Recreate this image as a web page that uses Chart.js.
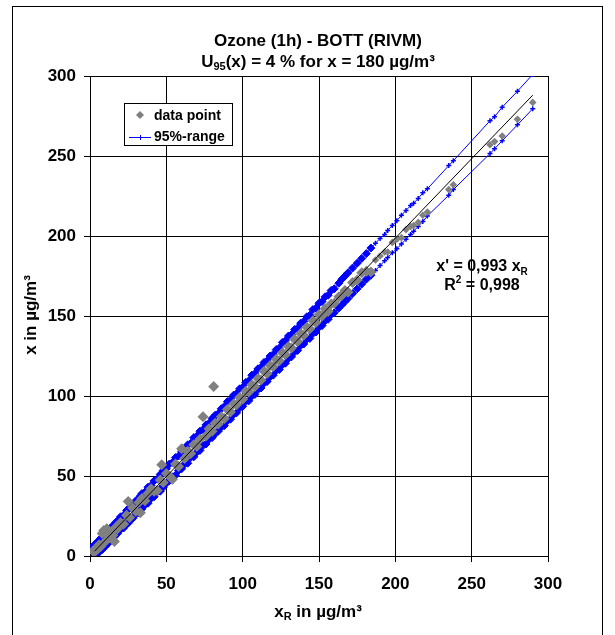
<!DOCTYPE html>
<html>
<head>
<meta charset="utf-8">
<script src="https://cdn.jsdelivr.net/npm/chart.js@4.4.1/dist/chart.umd.min.js"></script>
<style>
  body { margin: 0; background: #fff; }
  #wrap { width: 615px; height: 635px; }
</style>
</head>
<body>
<div id="wrap"><canvas id="grafico"></canvas></div>
<script>
// reference values x_R (shared by data points and the 95% range markers)
const dataX = [2,3,4,5,6,7,8,9,10,11,12,13,14,15,16,17,18,
  20,22,24,25,26,28,30,32,33,34,36,38,40,42,44,46,47,48,50,
  52,54,56,58,60,62,64,66,68,70,72,74,76,78,80,
  81,
  82,84,86,88,90,92,94,96,98,100,102,104,106,108,110,112,114,116,118,120,
  122,124,126,128,130,132,134,136,138,140,142,144,146,148,150,152,154,156,158,160,
  163,165,167,169,172,175,178,181,184,187,190,193,195,198,201,204,207,210,212,215,218,221,235,238,
  262,265,270,280,290]

// candidate values x
const dataY = [3,2.5,5,4.5,7,6,14,16,9,17,12.5,11.5,15,13,9,18,17,
  21,20,25.5,34,24,30,28,33.5,27,36,34.5,39,42,40.5,41,47.5,57,46,51.5,
  50,48,57.5,56,67,61,65.5,64,69.5,68.5,73,87,75,79.5,78,
  106,
  83,82.5,87,86,91.5,90,95,94.5,99,98,103,102.5,107,106,111,110,115.5,114,119,118.5,
  123,122,127,126,131,130,135.5,134,139,138,143,142,147,146,151,150,154.5,153,157.5,158,
  162,163,166,165,171,172.5,177,178,177.5,185,187.5,190,190,196,198,199,204,206,206.5,208.5,213,215,229,232,
  257,259,262.5,273,283.5]

// 95% range, upper and lower
const rangeUp = [6,7,7.5,9,9.5,11,11.5,13,13.5,15,15.5,17,17.5,19,19.5,21,22,
  24.5,25.5,28.5,29,30.5,32,34.5,36,37.5,39,40,43,44,47,48,51,51.5,53.5,54.5,
  57.5,58.5,61.5,62.5,65.5,66.5,69.5,70.5,74,75,78,79,82,83,86,
  86.5,
  88,89,92,93.5,96.5,97.5,100.5,101.5,104.5,105.5,108.5,109.5,113,114,117,118,121,122,125,126,
  129,130,133.5,134.5,137.5,138.5,141.5,142.5,145.5,146.5,149.5,150.5,154,155,158,159,162,163,166,167,
  170.5,173,175,177,180,183,186,189,192.5,195.5,198.5,201,203.5,206.5,209.5,213,216,219,220.5,223.5,227,229.5,244,247,
  272,274.5,280.5,290.5,301]

const rangeLo = [-1.5,0,0.5,2,2.5,3.5,4,5.5,6,7.5,8,9.5,10,11.5,12,13.5,14,
  16.5,17.5,20,20.5,22,23.5,26,27,29,29.5,32,33,36,37,40,40.5,43,43,45.5,
  47,49.5,50.5,53.5,54.5,57.5,58,61.5,62,65,66,69,70,73,74,
  75.5,
  77,78,80.5,81.5,84.5,85.5,88.5,89.5,92.5,93.5,96.5,97,100,101,104,105,108,109,112,113,
  116,116.5,119.5,120.5,123.5,124.5,127.5,128.5,131.5,132.5,135.5,136,139,140,143,144,147,148,151,152,
  155,157,159,161,164,167,170,173,175.5,178.5,181.5,184.5,186.5,189.5,192,195,198,201,203,206,209,212.5,225.5,229,
  251.5,254.5,259.5,269.5,279.5]

// regression line x' = 0,993 x_R
const regX = [3, 290]
const regY = [3, 288]

const tickVals = [0, 50, 100, 150, 200, 250, 300]

const FAM = '"Liberation Sans", Arial, sans-serif'
const BLUE = '#0000ff'
const GREY = '#808080'

function pts(xs, ys) {
  return xs.map((x, i) => ({ x: x, y: ys[i] }))
}

// below ~185 the hourly values pile up into a solid band
function dense(c) {
  return c.raw && c.raw.x < 185
}

// text with sub/superscript pieces, centred on x
function richText(ctx, parts, x, y, size) {
  const small = Math.round(size * 0.65)
  let total = 0
  const w = parts.map(p => {
    ctx.font = 'bold ' + (p[1] ? small : size) + 'px ' + FAM
    const m = ctx.measureText(p[0]).width
    total += m
    return m
  })
  let cx = x - total / 2
  ctx.textAlign = 'left'
  ctx.textBaseline = 'middle'
  parts.forEach((p, i) => {
    ctx.font = 'bold ' + (p[1] ? small : size) + 'px ' + FAM
    let dy = 0
    if (p[1] == 'sub') dy = size * 0.3
    if (p[1] == 'sup') dy = -size * 0.35
    ctx.fillText(p[0], cx, y + dy)
    cx += w[i]
  })
}

const decor = {
  id: 'decor',
  beforeDraw(chart) {
    const ctx = chart.ctx
    ctx.save()
    ctx.fillStyle = '#fff'
    ctx.fillRect(0, 0, chart.width, chart.height)
    ctx.strokeStyle = '#000'
    ctx.lineWidth = 1
    ctx.strokeRect(12.5, 6.5, 590, 640)
    ctx.restore()
  },
  afterDatasetsDraw(chart) {
    const ctx = chart.ctx
    ctx.save()
    ctx.fillStyle = '#000'
    // title
    richText(ctx, [['Ozone (1h) - BOTT (RIVM)', '']], 318, 41, 17)
    richText(ctx, [['U', ''], ['95', 'sub'], ['(x) = 4 % for x = 180 µg/m³', '']], 318, 62, 17)
    // axis titles
    richText(ctx, [['x', ''], ['R', 'sub'], [' in µg/m³', '']], 318, 612, 17)
    ctx.save()
    ctx.translate(31, 315)
    ctx.rotate(-Math.PI / 2)
    richText(ctx, [['x in µg/m³', '']], 0, 0, 17)
    ctx.restore()
    // fit result
    richText(ctx, [["x' = 0,993 x", ''], ['R', 'sub']], 482, 267, 16)
    richText(ctx, [['R', ''], ['2', 'sup'], [' = 0,998', '']], 482, 286, 16)

    // legend
    ctx.fillStyle = '#fff'
    ctx.fillRect(124.5, 103.5, 108, 42)
    ctx.strokeStyle = '#000'
    ctx.lineWidth = 1
    ctx.strokeRect(124.5, 103.5, 108, 42)
    ctx.fillStyle = GREY
    ctx.beginPath()
    ctx.moveTo(140, 111); ctx.lineTo(144, 115); ctx.lineTo(140, 119); ctx.lineTo(136, 115)
    ctx.closePath()
    ctx.fill()
    ctx.strokeStyle = BLUE
    ctx.beginPath()
    ctx.moveTo(129, 137.5); ctx.lineTo(151, 137.5)
    ctx.moveTo(140.5, 135); ctx.lineTo(140.5, 140)
    ctx.stroke()
    ctx.fillStyle = '#000'
    ctx.font = 'bold 14px ' + FAM
    ctx.textAlign = 'left'
    ctx.textBaseline = 'middle'
    ctx.fillText('data point', 154, 116)
    ctx.fillText('95%-range', 154, 137)
    ctx.restore()
  }
}

const tickFont = { family: FAM, weight: 'bold', size: 17 }

const rangeStyle = {
  showLine: true,
  borderColor: BLUE,
  backgroundColor: BLUE,
  borderWidth: 1,
  pointStyle: c => dense(c) ? 'rectRot' : 'cross',
  pointRadius: c => dense(c) ? 4 : 2.5,
  pointBorderWidth: c => dense(c) ? 1 : 1.5,
  pointBorderColor: BLUE,
  pointBackgroundColor: BLUE
}

new Chart(document.getElementById('grafico'), {
  type: 'scatter',
  data: {
    datasets: [
      {
        label: 'regression',
        data: pts(regX, regY),
        showLine: true,
        borderColor: '#000',
        borderWidth: 1,
        pointRadius: 0
      },
      {
        label: 'data point',
        data: pts(dataX, dataY),
        pointStyle: 'rectRot',
        pointRadius: c => dense(c) ? 5.5 : 3.8,
        backgroundColor: GREY,
        borderColor: GREY,
        borderWidth: 0
      },
      Object.assign({ label: '95%-range', data: pts(dataX, rangeUp) }, rangeStyle),
      Object.assign({ label: '95%-range low', data: pts(dataX, rangeLo) }, rangeStyle)
    ]
  },
  options: {
    responsive: true,
    maintainAspectRatio: false,
    animation: false,
    layout: { padding: { top: 76, right: 67, left: 0, bottom: 0 } },
    plugins: {
      legend: { display: false },
      title: { display: false },
      tooltip: { enabled: false }
    },
    scales: {
      x: {
        type: 'linear',
        min: 0,
        max: 300,
        afterFit: s => { s.height = 79 },
        afterBuildTicks: s => { s.ticks = tickVals.map(v => ({ value: v })) },
        ticks: { padding: 12, color: '#000', font: tickFont },
        grid: { color: '#000', lineWidth: 1, tickLength: 6, tickColor: '#000' },
        border: { color: '#000', width: 1 }
      },
      y: {
        type: 'linear',
        min: 0,
        max: 300,
        afterFit: s => { s.width = 90 },
        afterBuildTicks: s => { s.ticks = tickVals.map(v => ({ value: v })) },
        ticks: { padding: 8, color: '#000', font: tickFont },
        grid: { color: '#000', lineWidth: 1, tickLength: 6, tickColor: '#000' },
        border: { color: '#000', width: 1 }
      }
    }
  },
  plugins: [decor]
});
</script>
</body>
</html>
